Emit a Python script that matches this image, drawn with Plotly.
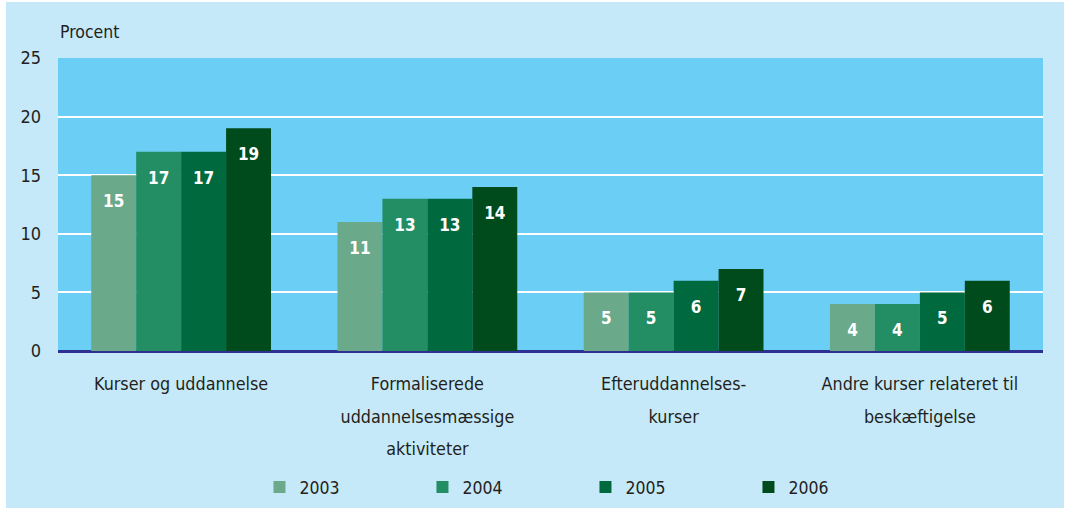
import plotly.graph_objects as go

categories = [
    "Kurser og uddannelse",
    "Formaliserede<br>uddannelsesmæssige<br>aktiviteter",
    "Efteruddannelses-<br>kurser",
    "Andre kurser relateret til<br>beskæftigelse",
]
years = ["2003", "2004", "2005", "2006"]
values = {
    "2003": [15, 11, 5, 4],
    "2004": [17, 13, 5, 4],
    "2005": [17, 13, 6, 5],
    "2006": [19, 14, 7, 6],
}
colors = ["#6aa98a", "#238d64", "#00693e", "#004b1c"]

FONT = "DejaVu Sans Condensed, Liberation Sans, sans-serif"

# tick labels: big font on the text element for wide line spacing, smaller span inside
span = "<span style='font-size:17.8px'>"
tick_text = [span + c.replace("<br>", "</span><br>" + span) + "</span>" for c in categories]

fig = go.Figure()
for yr, col in zip(years, colors):
    fig.add_bar(x=categories, y=values[yr], name=yr, marker_color=col,
                marker_line_width=0,
                texttemplate="<span style='font-size:8px'>&nbsp;</span><br>%{y}",
                textposition="inside", insidetextanchor="end", textangle=0,
                textfont=dict(color="white", size=17, family=FONT, weight="bold"))

# outer light blue frame and plot area background
fig.add_shape(type="rect", xref="paper", yref="paper",
              x0=-52 / 985, x1=1 + 21 / 985, y0=-157 / 293, y1=1 + 56 / 293,
              fillcolor="#c6e9f9", line_width=0, layer="below")
fig.add_shape(type="rect", xref="paper", yref="paper",
              x0=0, x1=1, y0=0, y1=1,
              fillcolor="#6bcff5", line_width=0, layer="below")

fig.add_annotation(text="Procent", xref="paper", yref="paper", x=0, y=1,
                   xanchor="left", yanchor="bottom", yshift=14, showarrow=False,
                   font=dict(size=17.5, family=FONT, color="#231f20"))

fig.update_layout(
    width=1066, height=509,
    margin=dict(l=58, r=23, t=58, b=158),
    paper_bgcolor="white", plot_bgcolor="#6bcff5",
    barmode="group", bargap=0.27, bargroupgap=0,
    font=dict(family=FONT, color="#231f20", size=17),
    showlegend=True,
    legend=dict(orientation="h", x=0.5355, xanchor="center",
                yref="container", y=1 - 487 / 509, yanchor="middle",
                entrywidth=118, font=dict(size=17.5), bgcolor="rgba(0,0,0,0)"),
    uniformtext=dict(minsize=10, mode="show"),
)
fig.update_xaxes(tickvals=categories, ticktext=tick_text, tickfont=dict(size=25),
                 showline=False, ticks="", ticklabelstandoff=13, automargin=False)
fig.update_yaxes(range=[0, 25], dtick=5, showgrid=True, gridcolor="white", gridwidth=2,
                 zeroline=True, zerolinecolor="#2e3192", zerolinewidth=3,
                 tickfont=dict(size=18), ticklabelstandoff=16, automargin=False)

fig.write_html("out.html", config={"displayModeBar": False},
               post_script="document.body.style.margin='0';")
